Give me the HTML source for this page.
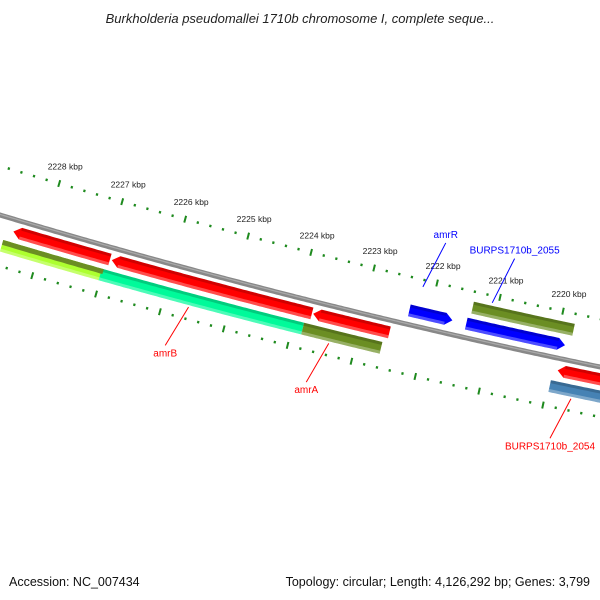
<!DOCTYPE html>
<html><head><meta charset="utf-8"><style>
html,body{margin:0;padding:0;background:#fff;}
svg{display:block;font-family:"Liberation Sans","DejaVu Sans",sans-serif;}
</style></head><body>
<svg id="map" width="600" height="600" viewBox="0 0 600 600">
<text x="300" y="23" text-anchor="middle" font-size="13" font-style="italic" fill="#222">Burkholderia pseudomallei 1710b chromosome I, complete seque...</text>
<g id="ticks"></g>
<g id="backbone"></g>
<g id="features"></g>
<g id="labels"></g>
<text x="9" y="586" font-size="12.5" fill="#111">Accession: NC_007434</text>
<text x="590" y="586" text-anchor="end" font-size="12.5" fill="#111">Topology: circular; Length: 4,126,292 bp; Genes: 3,799</text>
</svg>
<script>
// tick label values (kbp)
const tickLabels = [2228, 2227, 2226, 2225, 2224, 2223, 2222, 2221, 2220];
// feature names
const featNames = ["f1","f2","amrA-r","blue1","amrR","blue2","f2055","BURPS1710b_2054-r","lime","amrB","amrA","BURPS1710b_2054"];
// feature starts/ends in kbp
const featStart = [2228.46, 2226.91, 2223.74, 2222.32, 2221.42, 2221.38, 2219.89, 2228.57, 2227.02, 2223.84, 2219.96, 2219.96];
const featEnd   = [2226.94, 2223.76, 2222.54, 2221.64, 2219.86, 2219.78, 2219.10, 2226.99, 2223.84, 2222.61, 2219.10, 2219.10];
const featTrack = [12, 12, 12, -14, -14, -31, 12, 29, 29, 29, 29, 29];
const featColor = ["#ff0000","#ff0000","#ff0000","#0000ff","#0000ff","#6b8e23","#ff0000","#adff2f","#00fa9a","#6b8e23","#4682b4","#4682b4"];
const featDir   = [-1, -1, -1, 1, 1, 0, -1, 0, 0, 0, 0, 0];
// the 3rd array sets above contains duplicate placeholder; real used list below
const names = ["red-a","red-b","red-c","blue-amrR","blue-2055","olive-2055","red-2054","lime-olive","springgreen","olive-amrA","steelblue-2054"];
const starts = [2228.46, 2226.91, 2223.74, 2222.32, 2221.42, 2221.38, 2219.89, 2228.57, 2227.02, 2223.84, 2219.96];
const ends   = [2226.94, 2223.76, 2222.54, 2221.64, 2219.86, 2219.78, 2219.10, 2226.99, 2223.84, 2222.61, 2219.10];
const tracks = [12, 12, 12, -14, -14, -31, 12, 29, 29, 29, 29];
const colors = ["#ff0000","#ff0000","#ff0000","#0000ff","#0000ff","#6b8e23","#ff0000","#adff2f","#00fa9a","#6b8e23","#4682b4"];
const dirs   = [-1, -1, -1, 1, 1, 0, -1, 0, 0, 0, 0];
// label texts / anchors (kbp, track)
const labelText = ["amrB","amrA","BURPS1710b_2054","amrR","BURPS1710b_2055"];
const labelKbp  = [2225.6, 2223.4, 2219.6, 2222.2, 2221.1];
const labelColor= ["#ff0000","#ff0000","#ff0000","#0000ff","#0000ff"];

const NS="http://www.w3.org/2000/svg";
function kx(k){ return 46 + (2228 - k) * 63.4; }
function y0(x){ return 215 + 0.3*x - 7.78e-5*x*x; }
function pt(x,o){ const d=0.3-1.556e-4*x, L=Math.sqrt(1+d*d); return [x - d*o/L, y0(x) + o/L]; }
function mk(tag, attrs, parent){ const e=document.createElementNS(NS,tag); for(const k in attrs) e.setAttribute(k,attrs[k]); parent.appendChild(e); return e; }
function band(x1,x2,o1,o2){ const p=[]; for(let x=x1;x<=x2;x+=3)p.push(pt(x,o1)); p.push(pt(x2,o1)); for(let x=x2;x>=x1;x-=3)p.push(pt(x,o2)); p.push(pt(x1,o2)); return p.map(q=>q[0].toFixed(1)+","+q[1].toFixed(1)).join(" "); }

// backbone
const bb=document.getElementById('backbone');
let e=mk('polygon',{points:band(-10,610,-2.5,2.5),fill:'#888'},bb);


e=mk('polygon',{points:band(-10,610,-1.2,0),fill:'#aaa'},bb);



// ticks
const tg=document.getElementById('ticks');
for(let i=0;i<=60;i++){
  const k=2229 - i*0.2; const x=kx(k); const major=(i%5===0);
  [-47,49].forEach(function(o){
    const len=major?7:2.5;
    const a=pt(x,o-len/2), b=pt(x,o+len/2);
    const t=mk('line',{x1:a[0],y1:a[1],x2:b[0],y2:b[1],stroke:'#1e8a1e','stroke-width':major?2:2.2},tg);
    
    
  });
}
tickLabels.forEach(function(k){
  const p=pt(kx(k),-47);
  const t=mk('text',{x:p[0]+6,y:p[1]-14,'text-anchor':'middle','font-size':'8.5',fill:'#222'},tg);
  t.textContent=k+" kbp";
  
  
});

// features
const fg=document.getElementById('features');
const H=12, HEAD=7;
names.forEach(function(n,i){
  let x1=kx(starts[i]), x2=kx(ends[i]); const o=tracks[i];
  const g=mk('g',{},fg);
  
  
  let pts;
  if(dirs[i]===-1){
    const tip=pt(x1,o); pts=band(x1+HEAD,x2,o-H/2,o+H/2)+" "+tip[0].toFixed(1)+","+tip[1].toFixed(1);
  } else if(dirs[i]===1){
    const tip=pt(x2,o); const top=[],bot=[];
    for(let x=x1;x<=x2-HEAD;x+=3){top.push(pt(x,o-H/2));}
    top.push(pt(x2-HEAD,o-H/2)); top.push(tip);
    bot.push(pt(x2-HEAD,o+H/2)); for(let x=x2-HEAD;x>=x1;x-=3){bot.push(pt(x,o+H/2));} bot.push(pt(x1,o+H/2));
    pts=top.concat(bot).map(q=>q[0].toFixed(1)+","+q[1].toFixed(1)).join(" ");
  } else pts=band(x1,x2,o-H/2,o+H/2);
  mk('polygon',{points:pts,fill:colors[i]},g);
  const xa=x1+(dirs[i]===-1?HEAD:0), xb=x2-(dirs[i]===1?HEAD:0);
  mk('polygon',{points:band(xa,xb,o-H/2,o-H/2+3),fill:'#000','fill-opacity':0.18},g);
  mk('polygon',{points:band(xa,xb,o+H/2-3,o+H/2),fill:'#fff','fill-opacity':0.3},g);
});
// olive upper half on the lime feature
(function(){ const x1=kx(starts[7]), x2=kx(ends[7]);
  const p=mk('polygon',{points:band(x1,x2,23,28),fill:'#6b8e23'},fg);
  
  
})();

// labels
const lg=document.getElementById('labels');
labelText.forEach(function(t,i){
  const x=kx(labelKbp[i]); const up=labelColor[i]==='#0000ff';
  const a=pt(x, up?-40:37), b=pt(x+(up?12:-12), up?-88:80);
  const l=mk('line',{x1:a[0],y1:a[1],x2:b[0],y2:b[1],stroke:labelColor[i],'stroke-width':1},lg);
  
  
  const tx=mk('text',{x:b[0],y:up?b[1]-5:b[1]+11,'text-anchor':'middle','font-size':'10',fill:labelColor[i]},lg);
  tx.textContent=t;
  
  
});
</script>
</body></html>
